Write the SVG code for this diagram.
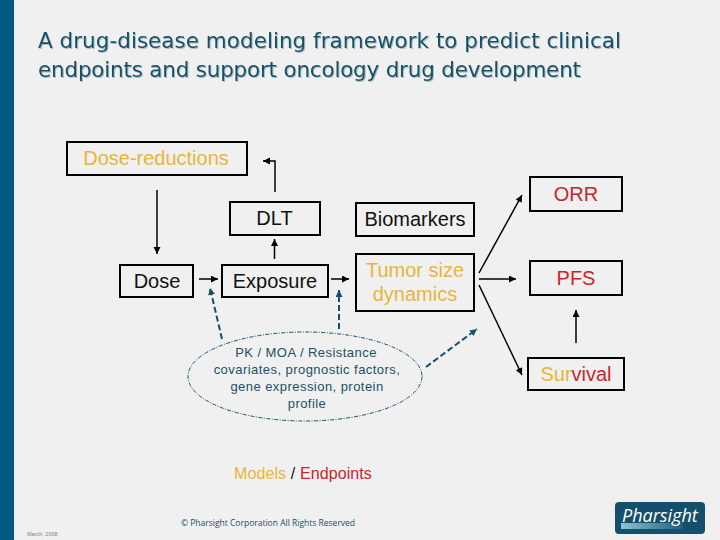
<svg xmlns="http://www.w3.org/2000/svg" width="720" height="540" viewBox="0 0 720 540">
<style>
.box{fill:none;stroke:#000;stroke-width:2}
.t{font-family:"Liberation Sans",Arial,sans-serif;text-anchor:middle}
.l{font-size:20px}
.c{font-size:13px;fill:#1a5068;letter-spacing:.45px}
.title{font-family:"DejaVu Sans",sans-serif;font-size:21.5px;fill:#14506b}
.y{fill:#e8b53a}.r{fill:#c8262a}.k{fill:#111}
.a{fill:none;stroke:#000;stroke-width:1.5}
.d{fill:none;stroke:#14506b;stroke-width:2;stroke-dasharray:6 3}
</style>
<defs>
<marker id="ak" markerUnits="userSpaceOnUse" markerWidth="9" markerHeight="9" refX="7" refY="3.500" orient="auto"><path d="M0 0L7 3.500L0 7z" fill="#000"/></marker>
<marker id="ab" markerUnits="userSpaceOnUse" markerWidth="9" markerHeight="9" refX="7" refY="3.500" orient="auto"><path d="M0 0L7 3.500L0 7z" fill="#14506b"/></marker>
<filter id="sh" x="-5%" y="-20%" width="110%" height="140%"><feDropShadow dx="1" dy="1" stdDeviation=".6" flood-color="#8aa" flood-opacity=".7"/></filter>
<linearGradient id="g" x1="0" x2="1" y1="0" y2="0"><stop offset="0" stop-color="#8cc4d4"/><stop offset="1" stop-color="#1f5f7c"/></linearGradient>
</defs>
<rect width="720" height="540" fill="#f0f0f0"/>
<rect width="14" height="540" fill="#005a80"/>
<g filter="url(#sh)">
<text class="title" x="38" y="48" textLength="583">A drug-disease modeling framework to predict clinical</text>
<text class="title" x="38" y="77" textLength="543">endpoints and support oncology drug development</text>
</g>
<g id="connectors">
<path class="a" marker-end="url(#ak)" d="M157 190V254"/>
<path class="a" marker-end="url(#ak)" d="M275 192V161H263"/>
<path class="a" marker-end="url(#ak)" d="M274.500 259V239"/>
<path class="a" marker-end="url(#ak)" d="M199 279H218"/>
<path class="a" marker-end="url(#ak)" d="M331 279H349"/>
<path class="a" marker-end="url(#ak)" d="M479 273L522 195"/>
<path class="a" marker-end="url(#ak)" d="M479 279H516"/>
<path class="a" marker-end="url(#ak)" d="M479 285L522 375"/>
<path class="a" marker-end="url(#ak)" d="M576 343V310"/>
<path class="d" marker-end="url(#ab)" d="M222 339L210 288"/>
<path class="d" marker-end="url(#ab)" d="M339 329V290"/>
<path class="d" marker-end="url(#ab)" d="M426 367L477 329"/>
</g>
<g id="dose-reductions"><rect class="box" x="67" y="142" width="180" height="33"/><text class="t l y" x="156" y="165">Dose-reductions</text></g>
<g id="dlt"><rect class="box" x="230" y="202" width="90" height="33"/><text class="t l k" x="274.500" y="225">DLT</text></g>
<g id="biomarkers"><rect class="box" x="356" y="203" width="118" height="33"/><text class="t l k" x="415" y="226">Biomarkers</text></g>
<g id="dose"><rect class="box" x="120" y="265" width="73" height="32"/><text class="t l k" x="157" y="288">Dose</text></g>
<g id="exposure"><rect class="box" x="222" y="265" width="106" height="32"/><text class="t l k" x="275" y="288">Exposure</text></g>
<g id="tumor"><rect class="box" x="356" y="254" width="118" height="57"/><text class="t l y" x="415" y="277">Tumor size</text><text class="t l y" x="415" y="301">dynamics</text></g>
<g id="orr"><rect class="box" x="530" y="177" width="92" height="34"/><text class="t l r" x="576" y="201">ORR</text></g>
<g id="pfs"><rect class="box" x="530" y="261" width="92" height="34"/><text class="t l r" x="576" y="285">PFS</text></g>
<g id="survival"><rect class="box" x="528" y="358" width="96" height="32"/><text class="t l" x="576" y="381"><tspan class="y">Sur</tspan><tspan class="r">vival</tspan></text></g>
<g id="covariates">
<ellipse cx="305" cy="376.500" rx="117" ry="44.500" fill="none" stroke="#14506b" stroke-width="1" stroke-dasharray="4 1.500 1 1.500"/>
<text class="t c" x="306" y="357">PK / MOA / Resistance</text>
<text class="t c" x="307" y="374">covariates, prognostic factors,</text>
<text class="t c" x="307" y="391">gene expression, protein</text>
<text class="t c" x="307" y="408">profile</text>
</g>
<text class="t" x="303" y="479" font-size="16" letter-spacing=".1"><tspan class="y">Models</tspan><tspan class="k"> / </tspan><tspan class="r">Endpoints</tspan></text>
<text x="268" y="526" text-anchor="middle" font-family="'Open Sans',sans-serif" font-size="8.500" fill="#14506b">© Pharsight Corporation All Rights Reserved</text>
<text x="27" y="536" font-family="'Liberation Sans',sans-serif" font-size="5.500" fill="#808080">March, 2008</text>
<g id="logo">
<rect x="615" y="502" width="90" height="32" rx="4" fill="#14506b"/>
<rect x="621" y="523" width="62" height="6" fill="url(#g)"/>
<text x="622" y="522" font-family="'Open Sans',sans-serif" font-style="italic" font-size="18" fill="#fff">Pharsight</text>
</g>
</svg>
